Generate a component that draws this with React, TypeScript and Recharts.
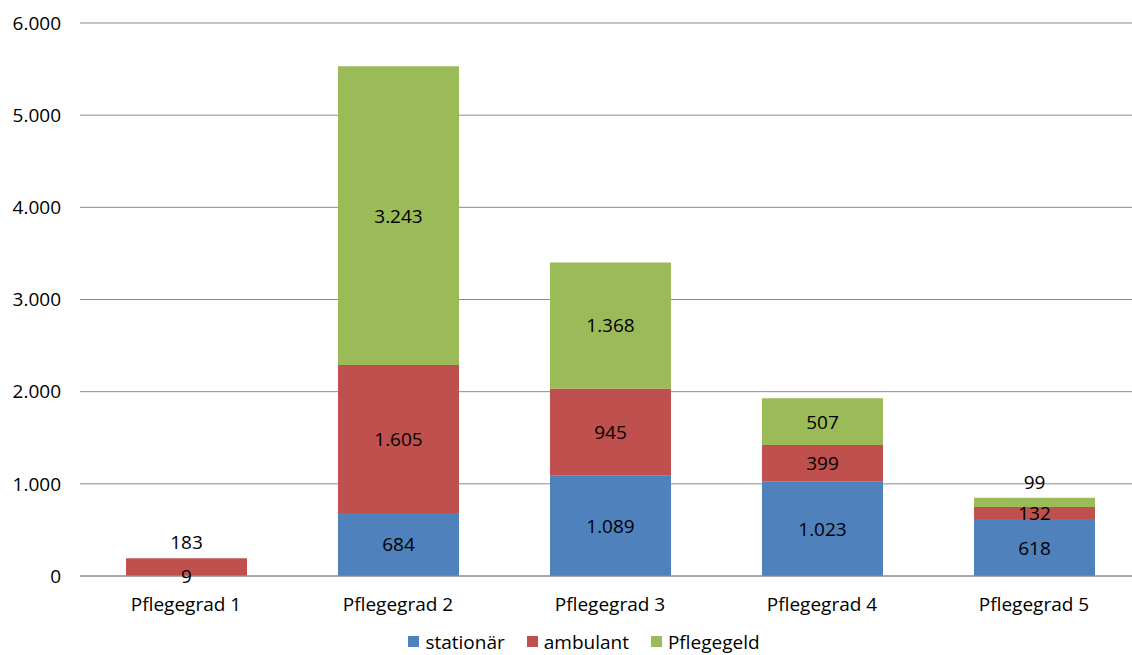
import { BarChart, Bar, XAxis, YAxis, CartesianGrid, Legend, LabelList } from 'recharts';

const categories = ['Pflegegrad 1', 'Pflegegrad 2', 'Pflegegrad 3', 'Pflegegrad 4', 'Pflegegrad 5'];
const stationaer = [9, 684, 1089, 1023, 618];
const ambulant = [183, 1605, 945, 399, 132];
const pflegegeld = [0, 3243, 1368, 507, 99];
const yTicks = [0, 1000, 2000, 3000, 4000, 5000, 6000];

const series = [
    { key: 'stationaer', name: 'stationär', color: '#4F81BD' },
    { key: 'ambulant', name: 'ambulant', color: '#C0504D' },
    { key: 'pflegegeld', name: 'Pflegegeld', color: '#9BBB59' },
] as const;

const data = categories.map((name, i) => ({
    name,
    stationaer: stationaer[i],
    ambulant: ambulant[i],
    pflegegeld: pflegegeld[i],
}));

const FONT = 'Open Sans, Noto Sans, sans-serif';

const formatDe = (v: number) => String(v).replace(/\B(?=(\d{3})+(?!\d))/g, '.');

// labels sit in the middle of the segment; a thin top segment gets its label above the bar
const makeLabel = (key: string) => (props: any) => {
    const { x, y, width, height, value, index } = props;
    if (!value) return null;
    const row = data[index];
    const isTop =
        key === 'pflegegeld' ||
        (key === 'ambulant' && !row.pflegegeld) ||
        (key === 'stationaer' && !row.ambulant && !row.pflegegeld);
    let cy = y + height / 2;
    if (isTop && height < 20) cy = y - 16;
    return (
        <text x={x + width / 2} y={cy} textAnchor="middle" dominantBaseline="central" fontSize={19} fontFamily={FONT} fill="#000">
            {formatDe(value)}
        </text>
    );
};

const renderLegend = () => (
    <div
        style={{
            display: 'flex',
            justifyContent: 'center',
            alignItems: 'center',
            boxSizing: 'border-box',
            height: 29,
            paddingTop: 2,
            paddingLeft: 28,
            fontFamily: FONT,
            fontSize: 19,
            lineHeight: '24px',
            color: '#000',
        }}
    >
        {series.map((s) => (
            <span key={s.key} style={{ display: 'flex', alignItems: 'center', margin: '0 11px' }}>
                <span style={{ width: 11, height: 11, background: s.color, marginRight: 6, display: 'inline-block' }} />
                {s.name}
            </span>
        ))}
    </div>
);

const App = () => {
    return (
        <div style={{ position: 'absolute', left: 0, top: 0, width: 1132, height: 655, overflow: 'hidden', background: '#fff' }}>
            <BarChart width={1140} height={655} data={data} margin={{ top: 23, right: 0, left: 0, bottom: 0 }} barSize={121}>
                <CartesianGrid vertical={false} stroke="#8c8c8c" />
                <XAxis
                    dataKey="name"
                    height={50}
                    axisLine={{ stroke: '#8c8c8c' }}
                    tickLine={false}
                    tick={{ fontSize: 19, fill: '#000', fontFamily: FONT }}
                    tickMargin={16}
                />
                <YAxis
                    width={80}
                    domain={[0, 6000]}
                    ticks={yTicks}
                    axisLine={false}
                    tickLine={false}
                    tickFormatter={formatDe}
                    tick={{ fontSize: 19, fill: '#000', fontFamily: FONT }}
                    tickMargin={13}
                />
                <Legend verticalAlign="bottom" height={29} content={renderLegend} />
                {series.map((s) => (
                    <Bar key={s.key} dataKey={s.key} name={s.name} stackId="a" fill={s.color} isAnimationActive={false}>
                        <LabelList dataKey={s.key} content={makeLabel(s.key)} />
                    </Bar>
                ))}
            </BarChart>
        </div>
    );
};

export default App;
